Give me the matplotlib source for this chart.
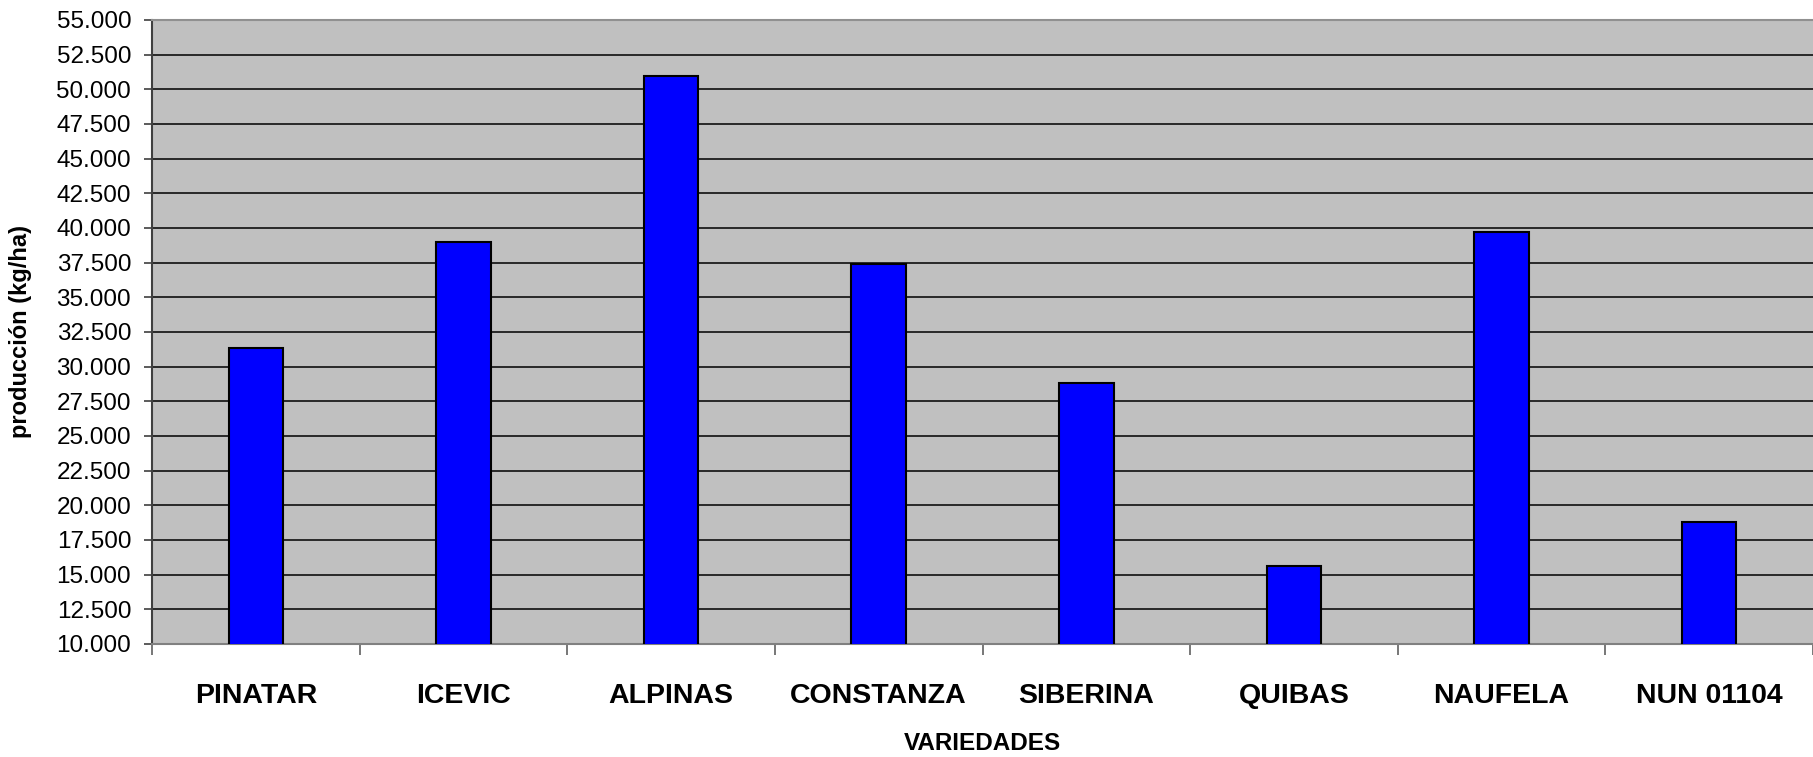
import matplotlib
matplotlib.use("Agg")
import matplotlib.pyplot as plt
from matplotlib.ticker import FuncFormatter, MultipleLocator, FixedLocator

plt.rcParams['font.family'] = ['Liberation Sans', 'DejaVu Sans']

# data
variedades = ["PINATAR", "ICEVIC", "ALPINAS", "CONSTANZA", "SIBERINA",
              "QUIBAS", "NAUFELA", "NUN 01104"]
produccion = [31350, 38970, 50940, 37380, 28840, 15600, 39680, 18780]

fig = plt.figure(figsize=(18.13, 7.57), dpi=100)
ax = fig.add_axes([152 / 1813, 113 / 757, 1 - 152 / 1813, 624 / 757])
ax.set_facecolor('#c0c0c0')

x = list(range(len(variedades)))
ax.bar(x, produccion, width=0.263, color='#0000ff', edgecolor='black',
       linewidth=1.5, zorder=3)

ax.set_xlim(-0.5, len(variedades) - 0.5)
ax.set_ylim(10000, 55000)

# y axis: gridlines every 2.500 with dotted thousands separator
ax.yaxis.set_major_locator(MultipleLocator(2500))
ax.yaxis.set_major_formatter(FuncFormatter(lambda v, p: f"{v:,.0f}".replace(",", ".")))
ax.yaxis.grid(True, color='black', linewidth=1.1, zorder=1)
ax.set_axisbelow(True)
ax.tick_params(axis='y', direction='out', length=6, width=1.2, color='#404040',
               labelsize=17.5, pad=9)

# x axis: ticks between categories, labels at centres
ax.xaxis.set_major_locator(FixedLocator([i - 0.5 for i in range(len(variedades) + 1)]))
ax.xaxis.set_major_formatter(FuncFormatter(lambda v, p: ""))
ax.xaxis.set_minor_locator(FixedLocator(x))
ax.set_xticklabels(variedades, minor=True)
ax.tick_params(axis='x', which='major', direction='out', length=8, width=1.2,
               color='#606060')
ax.tick_params(axis='x', which='minor', length=0, labelsize=20.5, pad=28)
for lbl in ax.get_xticklabels(minor=True):
    lbl.set_fontweight('bold')

# hide the black gridline at the top, the spine takes its place
for line, val in zip(ax.yaxis.get_gridlines(), ax.get_yticks()):
    if val >= 55000:
        line.set_visible(False)

ax.spines['left'].set_color('#404040')
ax.spines['left'].set_linewidth(1.5)
ax.spines['bottom'].set_color('#808080')
ax.spines['bottom'].set_linewidth(1.5)
ax.spines['top'].set_color('#909090')
ax.spines['top'].set_linewidth(1.5)
ax.spines['right'].set_visible(False)

ax.set_xlabel("VARIEDADES", fontsize=17.5, fontweight='bold', labelpad=17)
ax.set_ylabel("producción (kg/ha)", fontsize=17, fontweight='bold')
ax.yaxis.set_label_coords(-0.072, 0.5)

fig.savefig("out.png", dpi=100)
